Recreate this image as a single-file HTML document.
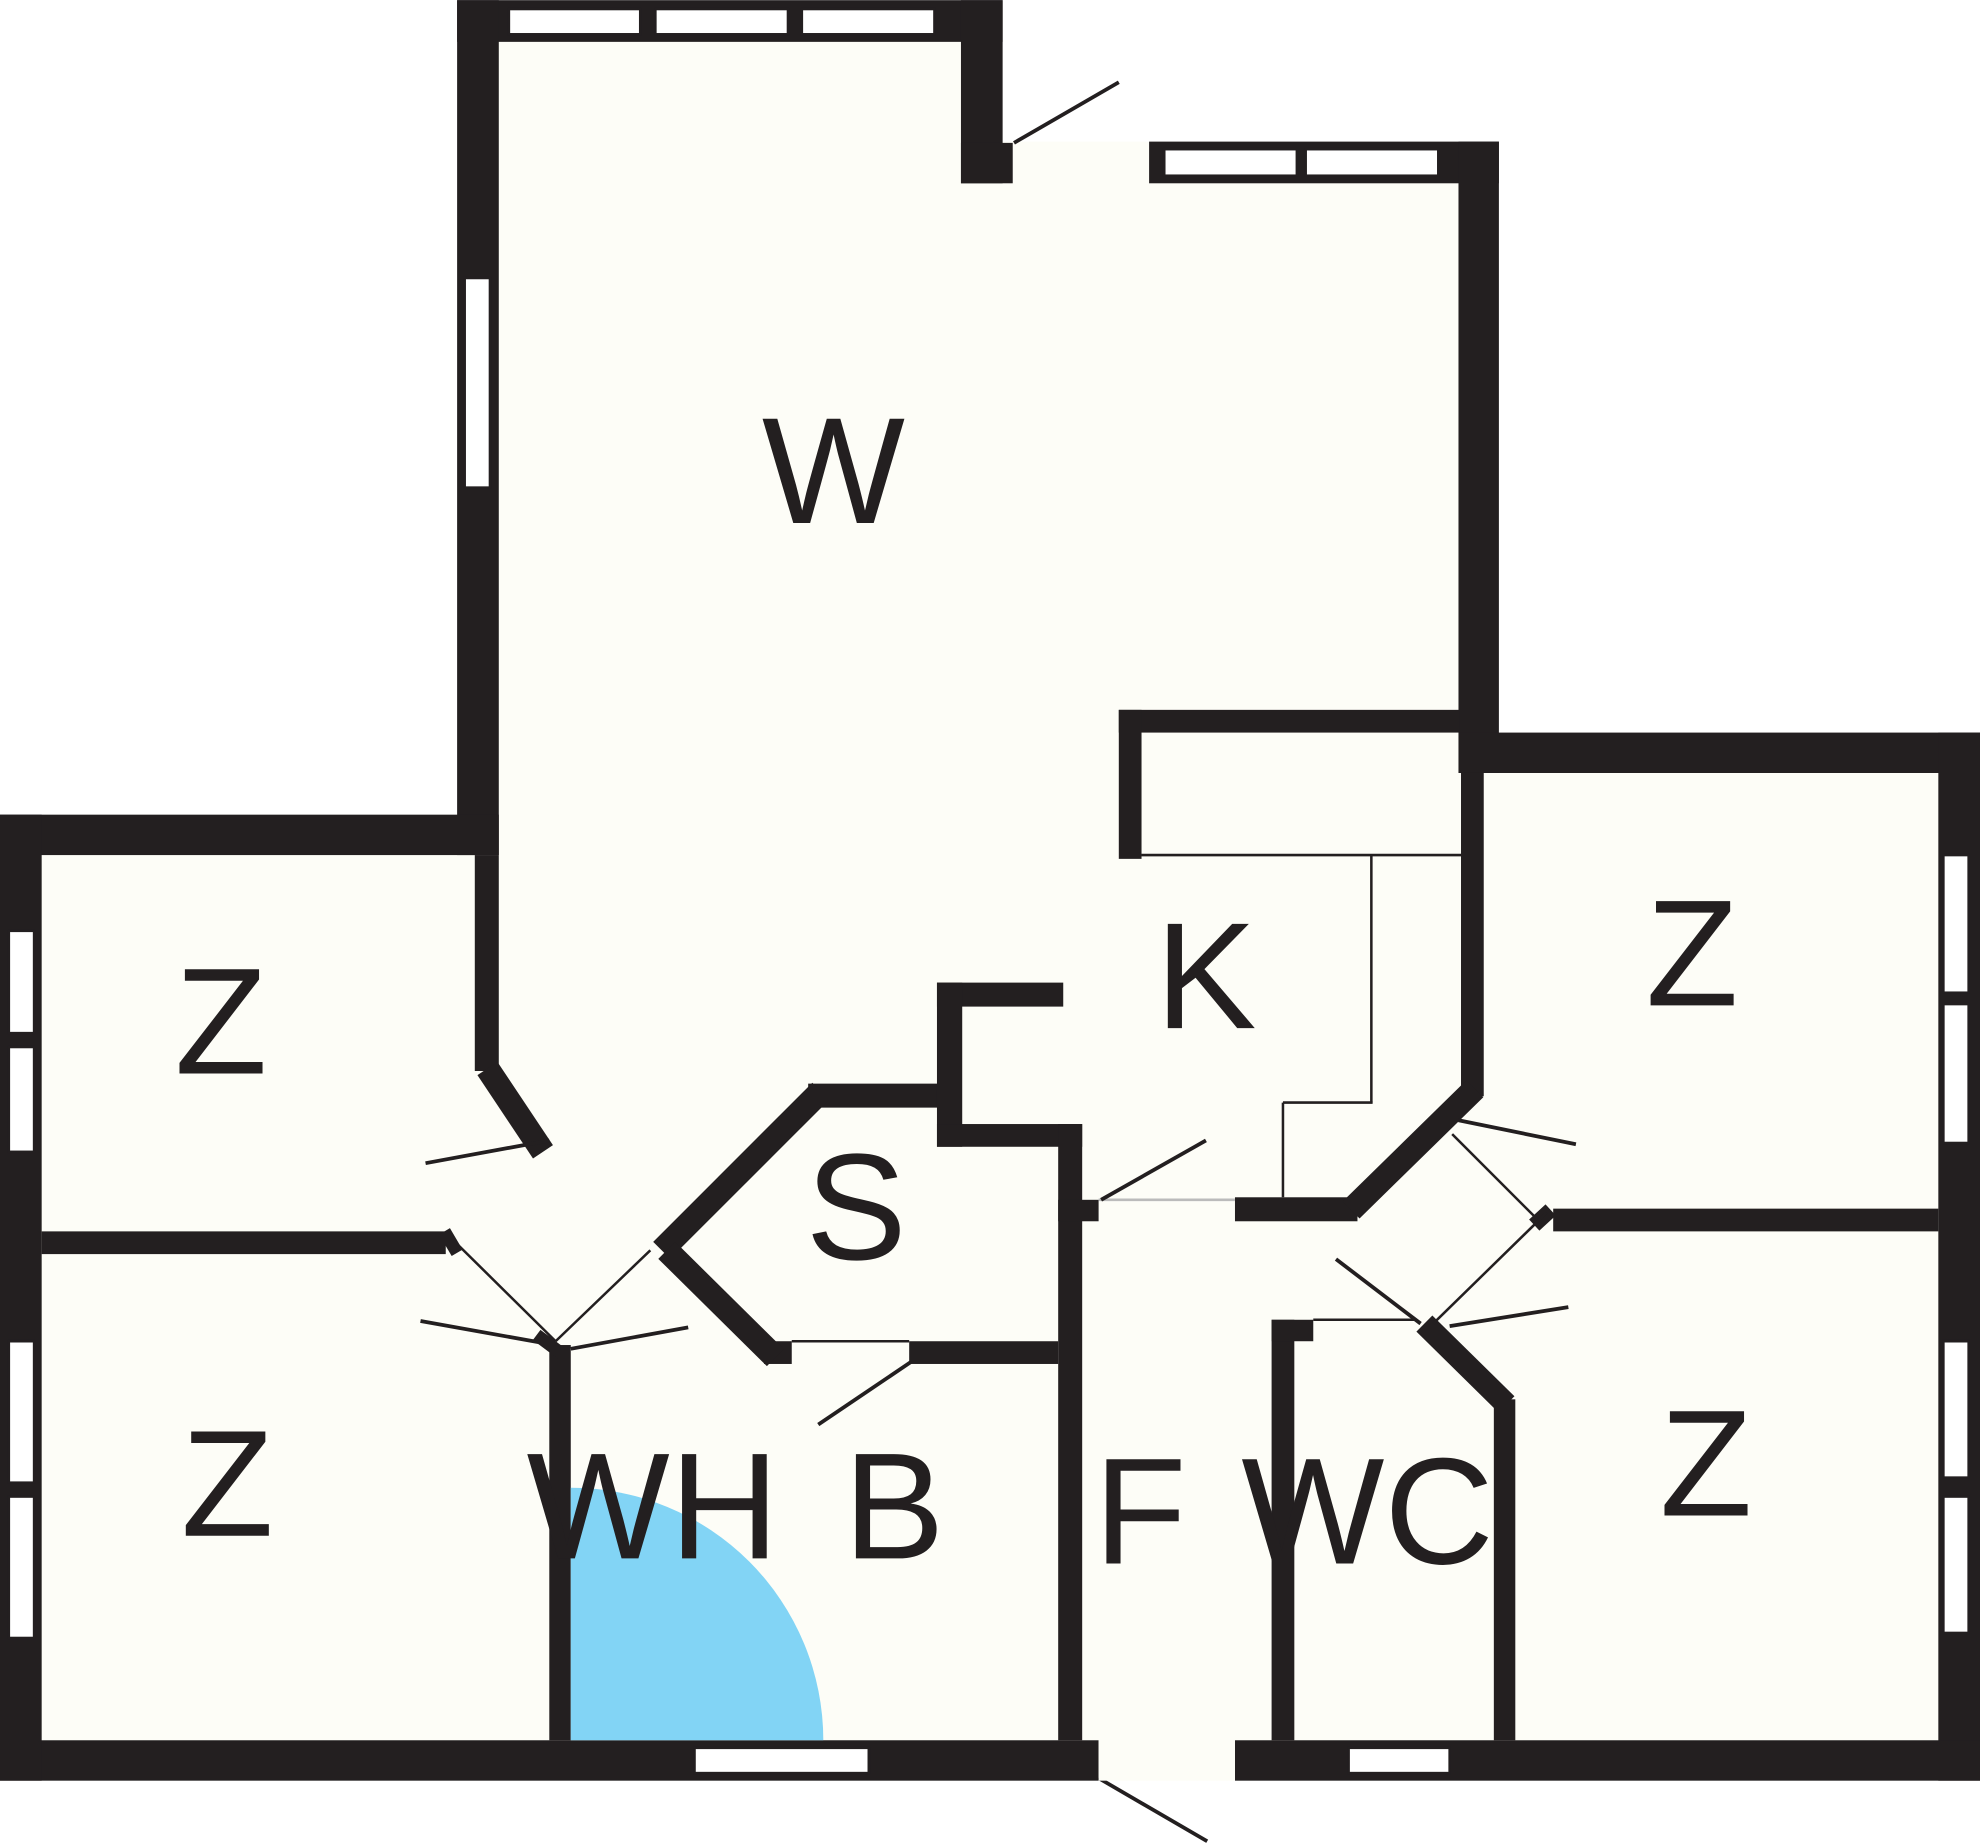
<!DOCTYPE html>
<html><head><style>html,body{margin:0;padding:0;background:#fff}svg{display:block}</style></head>
<body>
<svg width="1980" height="1844" viewBox="0 0 1568 1460" xmlns="http://www.w3.org/2000/svg">
<rect width="1568" height="1460" fill="#fff"/>
<polygon points="362,0 794,0 794,112 1187,112 1187,580 1568,580 1568,1410 0,1410 0,645 362,645" fill="#fdfdf7"/>
<g fill="#231f20">
<!-- top walls -->
<rect x="362" y="0" width="432" height="33"/>
<rect x="362" y="0" width="33" height="677"/>
<rect x="761" y="0" width="33" height="145"/>
<rect x="761" y="113" width="41" height="32"/>
<rect x="910" y="112" width="277" height="33"/>
<rect x="1155" y="112" width="32" height="500"/>
<rect x="1155" y="580" width="413" height="32"/>
<rect x="1535" y="580" width="33" height="830"/>
<rect x="0" y="1378" width="870" height="32"/>
<rect x="978" y="1378" width="590" height="32"/>
<rect x="0" y="645" width="395" height="32"/>
<rect x="0" y="645" width="33" height="765"/>
<rect x="33" y="975" width="320" height="18"/>
<rect x="376" y="677" width="19" height="171"/>
<rect x="435" y="1065" width="17" height="313"/>
<!-- K -->
<rect x="886" y="562" width="270" height="18"/>
<rect x="886" y="562" width="18" height="118"/>
<rect x="1157" y="612" width="18" height="256"/>
<rect x="978" y="948" width="97" height="19"/>
<!-- S -->
<rect x="640" y="858" width="110" height="19"/>
<rect x="742" y="778" width="100" height="19"/>
<rect x="742" y="778" width="20" height="130"/>
<rect x="742" y="890" width="115" height="18"/>
<rect x="838" y="890" width="19" height="488"/>
<rect x="838" y="950" width="32" height="17"/>
<rect x="720" y="1062" width="118" height="18"/>
<rect x="605" y="1062" width="22" height="18"/>
<!-- WC -->
<rect x="1007" y="1045" width="18" height="333"/>
<rect x="1007" y="1045" width="33" height="17"/>
<rect x="1183" y="1108" width="17" height="270"/>
<rect x="1230" y="957" width="305" height="18"/>
</g>
<g stroke="#231f20" fill="none" stroke-linecap="butt">
<line x1="386" y1="846" x2="430" y2="912" stroke-width="19"/>
<line x1="524" y1="990" x2="650" y2="864" stroke-width="19"/>
<line x1="528" y1="990" x2="614" y2="1075" stroke-width="19"/>
<line x1="1070" y1="958" x2="1168" y2="862" stroke-width="19"/>
<line x1="1128" y1="1048" x2="1193" y2="1112" stroke-width="18"/>
<line x1="352" y1="975" x2="362" y2="992" stroke-width="10"/>
<line x1="1215" y1="970" x2="1228" y2="958" stroke-width="12"/>
<line x1="425" y1="1057" x2="445" y2="1072" stroke-width="10"/>
<!-- thin -->
<g stroke-width="2">
<line x1="904" y1="677" x2="1157" y2="677"/>
<line x1="1086" y1="677" x2="1086" y2="873"/>
<line x1="1016" y1="873" x2="1087" y2="873"/>
<line x1="1016" y1="873" x2="1016" y2="948"/>
<line x1="362" y1="985" x2="440" y2="1062"/>
<line x1="440" y1="1062" x2="515" y2="990"/>
<line x1="1150" y1="898" x2="1220" y2="968"/>
<line x1="1135" y1="1048" x2="1225" y2="960"/>
<line x1="627" y1="1062" x2="720" y2="1062"/>
<line x1="1040" y1="1045" x2="1120" y2="1045"/>
<line x1="870" y1="950" x2="978" y2="950" stroke="#bbb"/>
</g>
<g stroke-width="3">
<line x1="803" y1="113" x2="886" y2="65"/>
<line x1="870" y1="1408" x2="956" y2="1458"/>
<line x1="872" y1="950" x2="955" y2="903"/>
<line x1="337" y1="921" x2="435" y2="903"/>
<line x1="333" y1="1046" x2="428" y2="1063"/>
<line x1="452" y1="1068" x2="545" y2="1051"/>
<line x1="648" y1="1128" x2="722" y2="1078"/>
<line x1="1155" y1="887" x2="1248" y2="906"/>
<line x1="1148" y1="1050" x2="1242" y2="1035"/>
<line x1="1058" y1="997" x2="1125" y2="1048"/>
</g>
</g>
<!-- windows -->
<g fill="#fff" stroke="#231f20" stroke-width="2">
<rect x="403" y="7" width="104" height="20"/><rect x="519" y="7" width="105" height="20"/><rect x="635" y="7" width="105" height="20"/>
<rect x="922" y="118" width="105" height="21"/><rect x="1034" y="118" width="105" height="21"/>
<rect x="368" y="220" width="20" height="166"/>
<rect x="7" y="737" width="20" height="81"/><rect x="7" y="829" width="20" height="83"/>
<rect x="7" y="1062" width="20" height="112"/><rect x="7" y="1185" width="20" height="112"/>
<rect x="1539" y="677" width="20" height="109"/><rect x="1539" y="795" width="20" height="110"/>
<rect x="1539" y="1062" width="20" height="108"/><rect x="1539" y="1185" width="20" height="108"/>
<rect x="550" y="1384" width="138" height="20"/><rect x="1068" y="1384" width="80" height="20"/>
</g>
<rect x="870" y="1378" width="108" height="32" fill="#fdfdf7"/>
<path d="M452,1378 L452,1178 A200,200 0 0 1 652,1378 Z" fill="#82d4f5"/>
<g font-family="Liberation Sans, sans-serif" font-size="120" fill="#231f20" text-anchor="middle">
<text x="660" y="414">W</text>
<text x="175" y="850">Z</text>
<text x="180" y="1216">Z</text>
<text x="1340" y="796">Z</text>
<text x="1351" y="1200">Z</text>
<text x="955" y="814">K</text>
<text x="678" y="997">S</text>
<text x="517" y="1234">WH</text>
<text x="708" y="1234">B</text>
<text x="903" y="1238">F</text>
<text x="1083" y="1238">WC</text>
</g>
</svg>
</body></html>
